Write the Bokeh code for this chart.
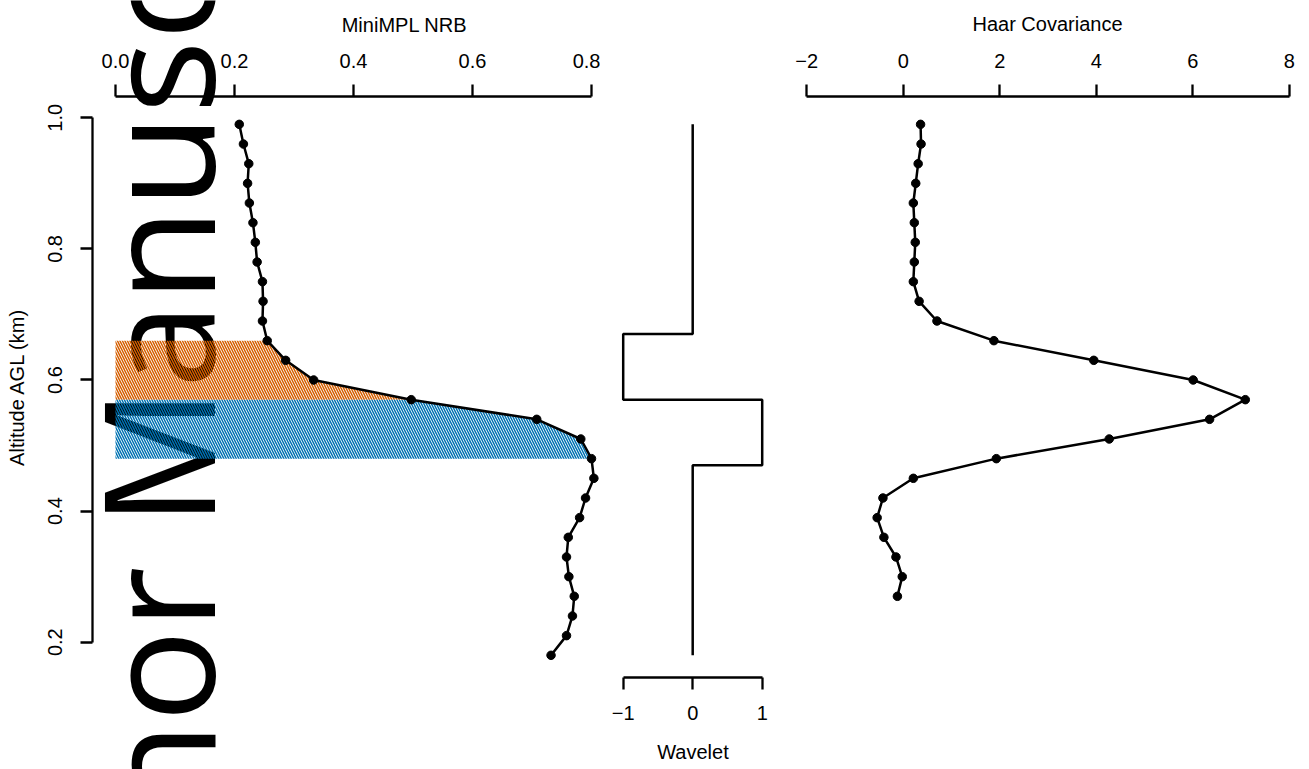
import math
from bokeh.plotting import figure
from bokeh.models import Range1d, LinearAxis, FixedTicker, Label, PrintfTickFormatter
from bokeh.layouts import row
from bokeh.embed import file_html
from bokeh.resources import INLINE

# ---------------- data ----------------
altitude_nrb = [0.18, 0.21, 0.24, 0.27, 0.30, 0.33, 0.36, 0.39, 0.42, 0.45,
                0.48, 0.51, 0.54, 0.57, 0.60, 0.63, 0.66, 0.69, 0.72, 0.75,
                0.78, 0.81, 0.84, 0.87, 0.90, 0.93, 0.96, 0.99]
nrb = [0.732, 0.758, 0.768, 0.771, 0.762, 0.758, 0.761, 0.780, 0.790, 0.804,
       0.800, 0.782, 0.708, 0.497, 0.333, 0.286, 0.255, 0.247, 0.248, 0.247,
       0.238, 0.235, 0.231, 0.225, 0.222, 0.224, 0.215, 0.208]

altitude_haar = [0.27, 0.30, 0.33, 0.36, 0.39, 0.42, 0.45, 0.48, 0.51, 0.54,
                 0.57, 0.60, 0.63, 0.66, 0.69, 0.72, 0.75, 0.78, 0.81, 0.84,
                 0.87, 0.90, 0.93, 0.96, 0.99]
haar = [-0.12, -0.02, -0.15, -0.40, -0.54, -0.42, 0.21, 1.93, 4.27, 6.35,
        7.09, 6.01, 3.95, 1.88, 0.70, 0.33, 0.21, 0.23, 0.25, 0.23,
        0.21, 0.26, 0.31, 0.37, 0.36]

wavelet_alt = [0.18, 0.47, 0.47, 0.57, 0.57, 0.67, 0.67, 0.99]
wavelet_val = [0, 0, 1, 1, -1, -1, 0, 0]

upper_layer = (0.57, 0.66)   # orange hatched
lower_layer = (0.48, 0.57)   # blue hatched

nrb_ticks = [0.0, 0.2, 0.4, 0.6, 0.8]
alt_ticks = [0.2, 0.4, 0.6, 0.8, 1.0]
wavelet_ticks = [-1, 0, 1]
haar_ticks = [-2, 0, 2, 4, 6, 8]

nrb_title = "MiniMPL NRB"
alt_title = "Altitude AGL (km)"
wavelet_title = "Wavelet"
haar_title = "Haar Covariance"
watermark = "Author Manuscript"

ORANGE = "#D55E00"
BLUE = "#0072B2"
FONT = "Liberation Sans"
H = 769
TOP, BOTTOM = 96, 92
ALT_RANGE = (0.14614, 1.0325)


def base_fig(width, xr, left=0, right=0):
    p = figure(width=width, height=H, x_range=xr, y_range=Range1d(*ALT_RANGE),
               output_backend="svg", toolbar_location=None,
               x_axis_location=None, y_axis_location=None,
               min_border_left=left, min_border_right=right,
               min_border_top=TOP, min_border_bottom=BOTTOM)
    p.grid.visible = False
    p.outline_line_color = None
    p.background_fill_color = None
    p.border_fill_color = None
    return p


def style_axis(ax):
    ax.axis_line_width = 2.3
    ax.axis_line_color = "black"
    ax.major_tick_line_width = 2.3
    ax.major_tick_line_color = "black"
    ax.major_tick_in = 0
    ax.major_tick_out = 12
    ax.minor_tick_line_color = None
    ax.major_label_text_font = FONT
    ax.major_label_text_font_size = "20px"
    ax.major_label_text_color = "black"
    ax.axis_label_text_font = FONT
    ax.axis_label_text_font_size = "20px"
    ax.axis_label_text_font_style = "normal"
    ax.axis_label_text_color = "black"


# ---------------- panel A: MiniMPL NRB ----------------
pA = base_fig(600, Range1d(-0.03866, 0.81513), left=92)

for (lo, hi), col in ((upper_layer, ORANGE), (lower_layer, BLUE)):
    ys = [a for a in altitude_nrb if lo - 1e-9 <= a <= hi + 1e-9]
    xs = [v for a, v in zip(altitude_nrb, nrb) if lo - 1e-9 <= a <= hi + 1e-9]
    pA.harea(x1=[0.0] * len(xs), x2=xs, y=ys, fill_alpha=0,
             hatch_pattern="\\", hatch_color=col, hatch_scale=5, hatch_weight=1.5)

pA.line(nrb, altitude_nrb, line_color="black", line_width=2.5)
pA.scatter(nrb, altitude_nrb, size=8.5, color="black")

axA_top = LinearAxis(bounds=(nrb_ticks[0], nrb_ticks[-1]),
                     ticker=FixedTicker(ticks=nrb_ticks),
                     formatter=PrintfTickFormatter(format="%.1f"))
style_axis(axA_top)
axA_top.major_label_standoff = 17
pA.add_layout(axA_top, "above")

axA_left = LinearAxis(bounds=(alt_ticks[0], alt_ticks[-1]),
                      ticker=FixedTicker(ticks=alt_ticks),
                      formatter=PrintfTickFormatter(format="%.1f"),
                      axis_label=alt_title)
style_axis(axA_left)
axA_left.major_label_orientation = "vertical"
axA_left.major_label_standoff = 18
axA_left.axis_label_standoff = 18
pA.add_layout(axA_left, "left")

# ---------------- panel B: Wavelet ----------------
pB = base_fig(185, Range1d(-1.3266, 1.3353))
pB.line(wavelet_val, wavelet_alt, line_color="black", line_width=2.5)
axB = LinearAxis(bounds=(wavelet_ticks[0], wavelet_ticks[-1]),
                 ticker=FixedTicker(ticks=wavelet_ticks),
                 major_label_overrides={-1: "\u22121"},
                 axis_label=wavelet_title)
style_axis(axB)
axB.major_label_standoff = 16
axB.axis_label_standoff = 18
pB.add_layout(axB, "below")

# ---------------- panel C: Haar covariance ----------------
pC = base_fig(524, Range1d(-2.4394, 8.4207))
pC.line(haar, altitude_haar, line_color="black", line_width=2.5)
pC.scatter(haar, altitude_haar, size=8.5, color="black")
axC = LinearAxis(bounds=(haar_ticks[0], haar_ticks[-1]),
                 ticker=FixedTicker(ticks=haar_ticks),
                 major_label_overrides={-2: "\u22122"},
                 axis_label=haar_title)
style_axis(axC)
axC.major_label_standoff = 17
axC.axis_label_standoff = 16
pC.add_layout(axC, "above")

layout = row(pA, pB, pC, spacing=0)

# ---------------- background layer: watermark + NRB title ----------------
pD = figure(width=1309, height=H, x_range=Range1d(0, 1309), y_range=Range1d(0, H),
            output_backend="svg", toolbar_location=None,
            x_axis_location=None, y_axis_location=None,
            min_border=0, styles={"position": "absolute", "left": "0px",
                                  "top": "0px", "z-index": "-1"})
pD.grid.visible = False
pD.outline_line_color = None
pD.background_fill_color = None
pD.border_fill_color = None
pD.add_layout(Label(x=154, y=H - 389, text=watermark, angle=math.pi / 2,
                    text_font="Open Sans", text_font_size="154px",
                    text_color="black", text_align="center",
                    text_baseline="alphabetic"))
pD.add_layout(Label(x=404, y=H - 24, text=nrb_title, text_font=FONT,
                    text_font_size="20px", text_color="black",
                    text_align="center", text_baseline="middle"))

open("out.html", "w").write(file_html([layout, pD], INLINE))
